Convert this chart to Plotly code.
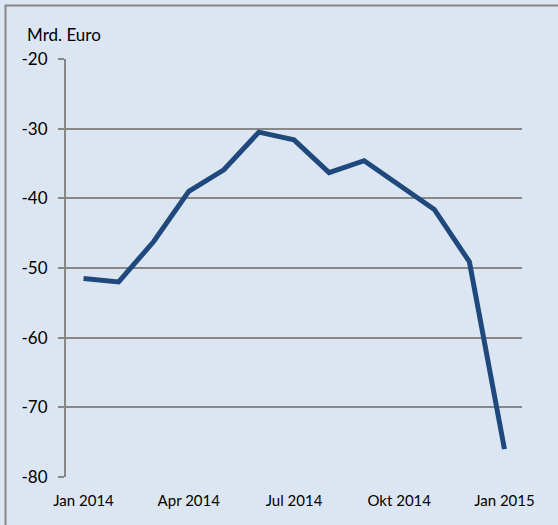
import plotly.graph_objects as go

months = ["Jan 2014", "Feb 2014", "Mär 2014", "Apr 2014", "Mai 2014", "Jun 2014",
          "Jul 2014", "Aug 2014", "Sep 2014", "Okt 2014", "Nov 2014", "Dez 2014", "Jan 2015"]
values = [-51.5, -52.0, -46.2, -39.0, -35.9, -30.5, -31.6, -36.3, -34.6, -38.1, -41.6, -49.1, -76.0]
tick_labels = ["Jan 2014", "Apr 2014", "Jul 2014", "Okt 2014", "Jan 2015"]
y_ticks = [-80, -70, -60, -50, -40, -30, -20]
y_tick_text = ["-80", "-70", "-60", "-50", "-40", "-30", "-20"]

bg = "#dce6f2"
grid = "#888888"
font_family = "Lato, 'Open Sans', sans-serif"

fig = go.Figure()
fig.add_trace(go.Scatter(
    x=months, y=values, mode="lines",
    line=dict(color="#1f497d", width=5),
    hoverinfo="x+y",
))

fig.update_layout(
    width=558, height=525,
    margin=dict(l=66, r=36, t=59, b=48),
    paper_bgcolor=bg, plot_bgcolor=bg,
    showlegend=False,
    font=dict(family=font_family, color="#000000"),
    xaxis=dict(
        type="category", range=[-0.5, 12.5], automargin=False,
        tickmode="array", tickvals=tick_labels, ticktext=tick_labels,
        showgrid=False, zeroline=False, showline=False,
        ticks="", tickfont=dict(size=15, family=font_family, color="#000"),
        ticklabelstandoff=13,
    ),
    yaxis=dict(
        range=[-80, -20], automargin=False,
        tickmode="array", tickvals=y_ticks, ticktext=y_tick_text,
        showgrid=True, gridcolor=grid, gridwidth=2,
        zeroline=False, showline=True, linecolor=grid, linewidth=2,
        ticks="outside", ticklen=6, tickcolor=grid, tickwidth=2,
        tickfont=dict(size=17, family=font_family, color="#000"),
        ticklabelstandoff=7,
    ),
    shapes=[dict(
        type="rect", xref="paper", yref="paper",
        x0=(5.5 - 66) / 456, x1=(620 - 66) / 456,
        y0=(477 - 600) / 418, y1=(477 - 5.5) / 418,
        line=dict(color="#888888", width=2), fillcolor="rgba(0,0,0,0)", layer="below",
    )],
    annotations=[dict(
        text="Mrd. Euro", xref="paper", yref="paper",
        x=(25 - 66) / 456, y=(477 - 35) / 418, xanchor="left", yanchor="middle",
        showarrow=False, font=dict(size=17, family=font_family, color="#000"),
    )],
)

fig.write_html("out.html",
               config={"displayModeBar": False},
               post_script="document.body.style.margin='0';document.body.style.background='#dce6f2';")
